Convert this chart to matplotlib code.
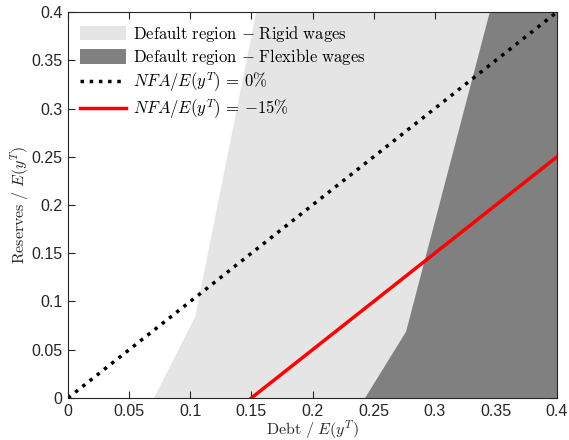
import numpy as np
import matplotlib
matplotlib.use("Agg")
import matplotlib.pyplot as plt
from matplotlib.patches import Patch
from matplotlib.lines import Line2D

plt.rcParams['mathtext.fontset'] = 'cm'
plt.rcParams['font.family'] = ['Liberation Sans', 'DejaVu Sans']

# default region boundaries (debt, reserves)
rigid_debt = [0.0703, 0.104, 0.154]
rigid_res = [0.0, 0.084, 0.4]
flex_debt = [0.243, 0.2765, 0.345]
flex_res = [0.0, 0.0687, 0.4]

# NFA iso-lines: reserves = debt + nfa
nfa_levels = [0.0, -0.15]
x_max = 0.4
ticks = [0, 0.05, 0.1, 0.15, 0.2, 0.25, 0.3, 0.35, 0.4]
tick_labels = ['0', '0.05', '0.1', '0.15', '0.2', '0.25', '0.3', '0.35', '0.4']

light = '#e5e5e5'
dark = '#808080'
axcol = '#262626'

fig = plt.figure(figsize=(5.69, 4.4), dpi=100)
ax = fig.add_axes([0.1195, 0.0955, 0.8595, 0.8772])

# rigid wages region: from its left boundary to the right edge
ax.fill(rigid_debt + [x_max, x_max], rigid_res + [0.4, 0.0], color=light, lw=0, zorder=1)
# flexible wages region
ax.fill(flex_debt + [x_max, x_max], flex_res + [0.4, 0.0], color=dark, lw=0, zorder=2)

for nfa, style, col in zip(nfa_levels, [':', '-'], ['black', 'red']):
    x0 = max(0.0, -nfa)
    xs = np.array([x0, x_max])
    ax.plot(xs, xs + nfa, ls=style, color=col, lw=2.5, zorder=3)

ax.set_xlim(0, 0.4)
ax.set_ylim(0, 0.4)
ax.set_xticks(ticks)
ax.set_xticklabels(tick_labels)
ax.set_yticks(ticks)
ax.set_yticklabels(tick_labels)
ax.tick_params(direction='in', top=True, right=True, labelsize=11.5,
               length=5, width=0.8, color=axcol, labelcolor=axcol, pad=4)
for sp in ax.spines.values():
    sp.set_color(axcol)
    sp.set_linewidth(0.8)
    sp.set_zorder(5)

ax.set_xlabel(r'$\mathrm{Debt}\ /\ E(y^T)$', fontsize=11.5, color=axcol, labelpad=0)
ax.set_ylabel(r'$\mathrm{Reserves}\ /\ E(y^T)$', fontsize=11.5, color=axcol, labelpad=0)

handles = [
    Patch(facecolor=light, edgecolor='none'),
    Patch(facecolor=dark, edgecolor='none'),
    Line2D([], [], ls=':', color='black', lw=2.5),
    Line2D([], [], ls='-', color='red', lw=2.5),
]
labels = [
    r'$\mathrm{Default\ region}\ {-}\ \mathrm{Rigid\ wages}$',
    r'$\mathrm{Default\ region}\ {-}\ \mathrm{Flexible\ wages}$',
    r'$NFA/E(y^T)\,=\,0\%$',
    r'$NFA/E(y^T)\,=\,{-}15\%$',
]
ax.legend(handles, labels, loc='upper left', frameon=False, fontsize=12,
          handlelength=2.8, handleheight=1.0, handletextpad=0.4,
          labelspacing=0.2, borderaxespad=0.4, borderpad=0.3)

fig.savefig('out.png', dpi=100)
